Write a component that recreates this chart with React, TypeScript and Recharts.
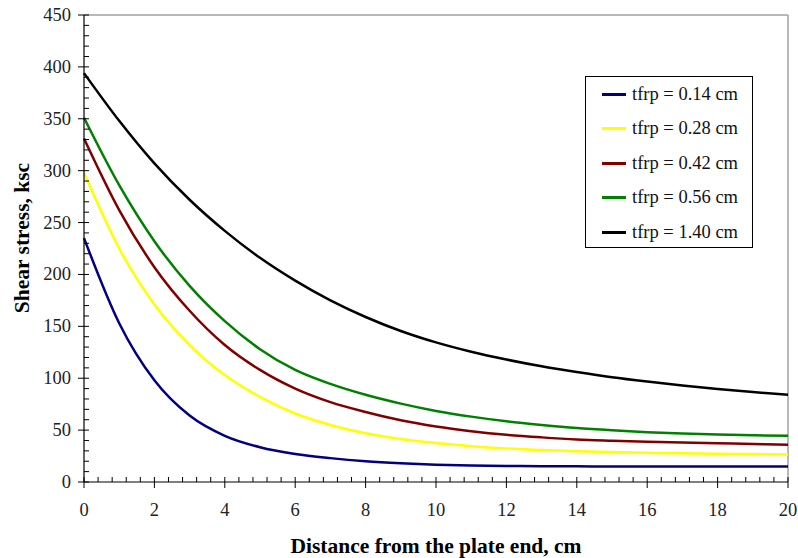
import { LineChart, Line, XAxis, YAxis, ReferenceLine } from "recharts";

// distance from the plate end (cm)
const distance = [0, 1, 2, 3, 4, 5, 6, 7, 8, 9, 10, 11, 12, 13, 14, 15, 16, 17, 18, 19, 20];

// shear stress (ksc) for each FRP plate thickness
const stress014 = [235, 153, 98, 64, 44.5, 33.5, 27, 23, 20, 18, 16.6, 15.8, 15.4, 15.2, 15.1, 15, 15, 15, 15, 15, 15];
const stress028 = [298, 225, 171, 132, 103, 82, 66, 55, 47, 41.5, 37.5, 34.5, 32.3, 30.8, 29.6, 28.8, 28.1, 27.6, 27.2, 26.9, 26.6];
const stress042 = [331, 262, 207, 165, 132, 108, 90, 77, 67.5, 59.5, 53.5, 49, 45.5, 43, 41, 39.8, 38.8, 38, 37.3, 36.6, 36];
const stress056 = [351, 286, 232, 189, 155, 128, 108, 94.5, 84, 75.5, 68.5, 63, 58.5, 55, 52, 49.8, 48, 46.7, 45.7, 45, 44.5];
const stress140 = [394, 348, 307, 272, 242, 216, 194, 175, 159, 145.5, 134.5, 125.5, 118, 111.5, 106, 101, 96.8, 93, 89.7, 86.7, 84];

const seriesNames = [
  "tfrp = 0.14 cm",
  "tfrp = 0.28 cm",
  "tfrp = 0.42 cm",
  "tfrp = 0.56 cm",
  "tfrp = 1.40 cm",
];
const seriesColors = ["#000080", "#ffff00", "#800000", "#008000", "#000000"];
const seriesValues = [stress014, stress028, stress042, stress056, stress140];

// axis ticks: majors get labels, minors are short marks only
const yTicks = Array.from({ length: 46 }, (_, i) => i * 10);
const xTicks = Array.from({ length: 51 }, (_, i) => Math.round(i * 4) / 10);

const data = distance.map((d, i) => {
  const row: Record<string, number> = { x: d };
  seriesValues.forEach((vals, s) => {
    row["s" + s] = vals[i];
  });
  return row;
});

const FONT = '"Liberation Serif", "Times New Roman", serif';
const TICK_MARGIN = 12;
const TITLE_SIZE = 21.5;

function YTick(props: any) {
  const { x, y, payload } = props;
  const axisX = x + TICK_MARGIN;
  const v = payload.value;
  const major = v % 50 === 0;
  return (
    <g>
      <line
        x1={major ? axisX - 6 : axisX}
        x2={axisX + 5}
        y1={y}
        y2={y}
        stroke="#000"
        strokeWidth={1}
      />
      {major && (
        <text
          x={axisX - 13}
          y={y + 6}
          textAnchor="end"
          fontFamily={FONT}
          fontSize={18.5}
          fill="#222"
        >
          {v}
        </text>
      )}
    </g>
  );
}

function XTick(props: any) {
  const { x, y, payload } = props;
  const axisY = y - TICK_MARGIN;
  const v = payload.value;
  const major = Math.abs(v / 2 - Math.round(v / 2)) < 1e-6;
  return (
    <g>
      <line
        x1={x}
        x2={x}
        y1={axisY - 5}
        y2={major ? axisY + 6 : axisY}
        stroke="#000"
        strokeWidth={1}
      />
      {major && (
        <text
          x={x}
          y={axisY + 34}
          textAnchor="middle"
          fontFamily={FONT}
          fontSize={18.5}
          fill="#222"
        >
          {v}
        </text>
      )}
    </g>
  );
}

function LegendBox() {
  return (
    <div
      style={{
        position: "absolute",
        left: 585,
        top: 76,
        width: 168,
        height: 172,
        boxSizing: "border-box",
        border: "1px solid #000",
        background: "#fff",
        fontFamily: FONT,
        fontSize: 18.5,
        color: "#111",
      }}
    >
      {seriesNames.map((name, s) => (
        <div
          key={name}
          style={{ display: "flex", alignItems: "center", height: 34.5 }}
        >
          <span
            style={{
              display: "inline-block",
              width: 24,
              height: 3,
              marginLeft: 16,
              marginRight: 6,
              background: seriesColors[s],
            }}
          />
          <span>{name}</span>
        </div>
      ))}
    </div>
  );
}

export default function App() {
  return (
    <div
      style={{
        position: "absolute",
        left: 0,
        top: 0,
        width: 798,
        height: 558,
        background: "#fff",
      }}
    >
      <LineChart
        width={798}
        height={558}
        data={data}
        margin={{ top: 15, right: 10, left: 24, bottom: 26 }}
      >
        <XAxis
          dataKey="x"
          type="number"
          domain={[0, 20]}
          ticks={xTicks}
          interval={0}
          height={50}
          tickSize={0}
          tickMargin={TICK_MARGIN}
          tickLine={false}
          axisLine={{ stroke: "#000", strokeWidth: 1.2 }}
          tick={<XTick />}
          label={{
            content: (p: any) => {
              const vb = p.viewBox;
              return (
                <text
                  x={vb.x + vb.width / 2}
                  y={vb.y + 71}
                  textAnchor="middle"
                  fontFamily={FONT}
                  fontWeight="bold"
                  fontSize={TITLE_SIZE}
                  fill="#000"
                >
                  Distance from the plate end, cm
                </text>
              );
            },
          }}
        />
        <YAxis
          type="number"
          domain={[0, 450]}
          ticks={yTicks}
          interval={0}
          width={60}
          tickSize={0}
          tickMargin={TICK_MARGIN}
          tickLine={false}
          axisLine={{ stroke: "#000", strokeWidth: 1.2 }}
          tick={<YTick />}
          label={{
            content: () => (
              <text
                transform="translate(29, 238) rotate(-90)"
                textAnchor="middle"
                fontFamily={FONT}
                fontWeight="bold"
                fontSize={TITLE_SIZE}
                fill="#000"
              >
                Shear stress, ksc
              </text>
            ),
          }}
        />
        <ReferenceLine y={450} stroke="#a0a0a0" strokeWidth={1.5} />
        <ReferenceLine x={20} stroke="#a0a0a0" strokeWidth={1.5} />
        {seriesNames.map((name, s) => (
          <Line
            key={name}
            dataKey={"s" + s}
            name={name}
            type="monotone"
            stroke={seriesColors[s]}
            strokeWidth={2.5}
            dot={false}
            isAnimationActive={false}
          />
        ))}
      </LineChart>
      <LegendBox />
    </div>
  );
}
